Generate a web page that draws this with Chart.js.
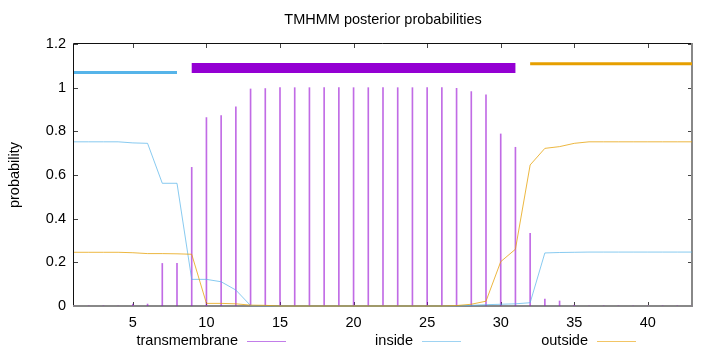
<!DOCTYPE html>
<html>
<head>
<meta charset="utf-8">
<script src="https://cdn.jsdelivr.net/npm/chart.js@4.4.1/dist/chart.umd.min.js"></script>
<style>
  html, body { margin: 0; padding: 0; background: #fff; }
  #wrap { width: 720px; height: 352px; }
</style>
</head>
<body>
<div id="wrap"><canvas id="tmChart" width="720" height="352"></canvas></div>
<script>
// Posiciones de la secuencia
const positions = [1, 2, 3, 4, 5, 6, 7, 8, 9, 10, 11, 12, 13, 14, 15, 16, 17, 18, 19, 20, 21,
  22, 23, 24, 25, 26, 27, 28, 29, 30, 31, 32, 33, 34, 35, 36, 37, 38, 39, 40, 41, 42, 43];

// Probabilidades posteriores
const transmembrane = [0, 0, 0, 0, 0.009, 0.009, 0.195, 0.195, 0.635, 0.863, 0.872, 0.912, 0.994,
  0.996, 1, 1, 1, 1, 1, 1, 1, 1, 1, 1, 1, 1, 0.997, 0.982, 0.967, 0.788, 0.727, 0.333, 0.032,
  0.023, 0.004, 0, 0, 0, 0, 0, 0, 0, 0];
const inside = [0.752, 0.752, 0.752, 0.752, 0.747, 0.745, 0.562, 0.562, 0.122, 0.122, 0.111,
  0.073, 0.002, 0.001, 0, 0, 0, 0, 0, 0, 0, 0, 0, 0, 0, 0, 0.001, 0.003, 0.006, 0.008, 0.01,
  0.015, 0.243, 0.245, 0.246, 0.247, 0.247, 0.247, 0.247, 0.247, 0.247, 0.247, 0.247];
const outside = [0.246, 0.246, 0.246, 0.246, 0.244, 0.24, 0.24, 0.239, 0.237, 0.012, 0.012,
  0.01, 0.004, 0.003, 0, 0, 0, 0, 0, 0, 0, 0, 0, 0, 0, 0, 0.002, 0.008, 0.022, 0.203, 0.26,
  0.646, 0.722, 0.73, 0.745, 0.752, 0.752, 0.752, 0.752, 0.752, 0.752, 0.752, 0.752];

// Tramos de la topología predicha (inicio, fin) y su nivel
const insideSpan = [1, 8];
const tmSpan = [9, 31];
const outsideSpan = [32, 43];
const spanLevels = [1.07, 1.09, 1.11];

// Ejes
const xTicks = [5, 10, 15, 20, 25, 30, 35, 40];
const yTicks = [0, 0.2, 0.4, 0.6, 0.8, 1, 1.2];
const yTickLabels = ['0', '0.2', '0.4', '0.6', '0.8', '1', '1.2'];

const legendLabels = ['transmembrane', 'inside', 'outside'];

const FONT = '"Liberation Sans", Arial, sans-serif';
const COLORS = {
  tm: 'rgba(148, 0, 211, 0.58)',
  inside: 'rgba(86, 180, 233, 0.7)',
  outside: 'rgba(230, 159, 0, 0.75)',
  tmSolid: '#9400d3',
  insideSolid: '#56b4e9',
  outsideSolid: '#e69f00',
  tmKey: '#c27de9',
  insideKey: '#9ed3f2',
  outsideKey: '#f2c565'
};

const toPoints = (values) => values.map((v, i) => ({ x: positions[i], y: v }));
const spanPoints = (span, level) => span.map(x => ({ x: x, y: level }));

// Título, marco, marcas interiores y leyenda estilo gnuplot
const gnuplotDecor = {
  id: 'gnuplotDecor',
  beforeDatasetsDraw(chart) {
    const { ctx, chartArea: a, scales } = chart;
    ctx.save();
    // marcas hacia dentro (con espejo)
    ctx.strokeStyle = '#444';
    ctx.lineWidth = 1;
    ctx.beginPath();
    xTicks.forEach(v => {
      const px = Math.round(scales.x.getPixelForValue(v)) + 0.5;
      ctx.moveTo(px, a.bottom); ctx.lineTo(px, a.bottom - 4);
      ctx.moveTo(px, a.top); ctx.lineTo(px, a.top + 4);
    });
    yTicks.forEach(v => {
      const py = Math.round(scales.y.getPixelForValue(v)) + 0.5;
      ctx.moveTo(a.left, py); ctx.lineTo(a.left + 4, py);
      ctx.moveTo(a.right, py); ctx.lineTo(a.right - 4, py);
    });
    ctx.stroke();
    // marco
    ctx.strokeStyle = '#111';
    ctx.beginPath();
    ctx.moveTo(a.left - 0.5, a.bottom);
    ctx.lineTo(a.left - 0.5, a.top - 0.5);
    ctx.lineTo(a.right, a.top - 0.5);
    ctx.stroke();
    ctx.strokeStyle = '#888';
    ctx.lineWidth = 2;
    ctx.beginPath();
    ctx.moveTo(a.right, a.top - 1);
    ctx.lineTo(a.right, a.bottom);
    ctx.lineTo(a.left - 1, a.bottom);
    ctx.stroke();
    ctx.restore();
  },
  afterDraw(chart) {
    const { ctx, chartArea: a } = chart;
    ctx.save();
    ctx.fillStyle = '#000';
    ctx.font = '14.5px ' + FONT;
    ctx.textAlign = 'center';
    ctx.textBaseline = 'middle';
    ctx.fillText('TMHMM posterior probabilities', (a.left + a.right) / 2, 20);

    // leyenda: texto a la izquierda, muestra de línea a la derecha
    const keyColors = [COLORS.tmKey, COLORS.insideKey, COLORS.outsideKey];
    const textRight = [238, 413, 588];
    const y = 341;
    ctx.textAlign = 'right';
    legendLabels.forEach((label, i) => {
      ctx.fillStyle = '#000';
      ctx.fillText(label, textRight[i], y);
      ctx.fillStyle = keyColors[i];
      ctx.fillRect(textRight[i] + 9, y, 39, 1);
    });
    ctx.restore();
  }
};

Chart.defaults.font.family = FONT;
Chart.defaults.font.size = 14.5;
Chart.defaults.color = '#000';

const ctx = document.getElementById('tmChart').getContext('2d');
new Chart(ctx, {
  type: 'line',
  data: {
    datasets: [
      {
        label: 'inside span',
        data: spanPoints(insideSpan, spanLevels[0]),
        borderColor: COLORS.insideSolid,
        borderWidth: 3,
        borderCapStyle: 'butt',
        pointRadius: 0
      },
      {
        label: 'tm span',
        data: spanPoints(tmSpan, spanLevels[1]),
        borderColor: COLORS.tmSolid,
        borderWidth: 10,
        borderCapStyle: 'butt',
        pointRadius: 0
      },
      {
        label: 'outside span',
        data: spanPoints(outsideSpan, spanLevels[2]),
        borderColor: COLORS.outsideSolid,
        borderWidth: 3,
        borderCapStyle: 'butt',
        pointRadius: 0
      },
      {
        label: legendLabels[2],
        data: toPoints(outside),
        borderColor: COLORS.outside,
        borderWidth: 1,
        pointRadius: 0,
        tension: 0,
        clip: false
      },
      {
        label: legendLabels[1],
        data: toPoints(inside),
        borderColor: COLORS.inside,
        borderWidth: 1,
        pointRadius: 0,
        tension: 0,
        clip: false
      },
      {
        type: 'bar',
        label: legendLabels[0],
        data: toPoints(transmembrane),
        backgroundColor: COLORS.tm,
        barThickness: 1,
        borderWidth: 0
      }
    ]
  },
  options: {
    responsive: false,
    animation: false,
    events: [],
    layout: { padding: { top: 44, right: 28, bottom: 0, left: 0 } },
    plugins: {
      legend: { display: false },
      tooltip: { enabled: false },
      title: { display: false }
    },
    scales: {
      x: {
        type: 'linear',
        min: 1,
        max: 43,
        offset: false,
        afterBuildTicks: (scale) => { scale.ticks = xTicks.map(v => ({ value: v })); },
        afterFit: (scale) => { scale.height = 46; },
        grid: { display: true, drawOnChartArea: false, drawTicks: false, offset: false },
        border: { display: false },
        ticks: { padding: 8, maxRotation: 0, autoSkip: false }
      },
      y: {
        type: 'linear',
        min: 0,
        max: 1.2,
        afterBuildTicks: (scale) => { scale.ticks = yTicks.map(v => ({ value: v })); },
        afterFit: (scale) => { scale.width = 74; },
        grid: { display: true, drawOnChartArea: false, drawTicks: false },
        border: { display: false },
        ticks: {
          padding: 8,
          callback: (value, index) => yTickLabels[index]
        },
        title: {
          display: true,
          text: 'probability',
          font: { size: 14.5 },
          padding: { top: 6, bottom: 0 }
        }
      }
    }
  },
  plugins: [gnuplotDecor]
});
</script>
</body>
</html>
